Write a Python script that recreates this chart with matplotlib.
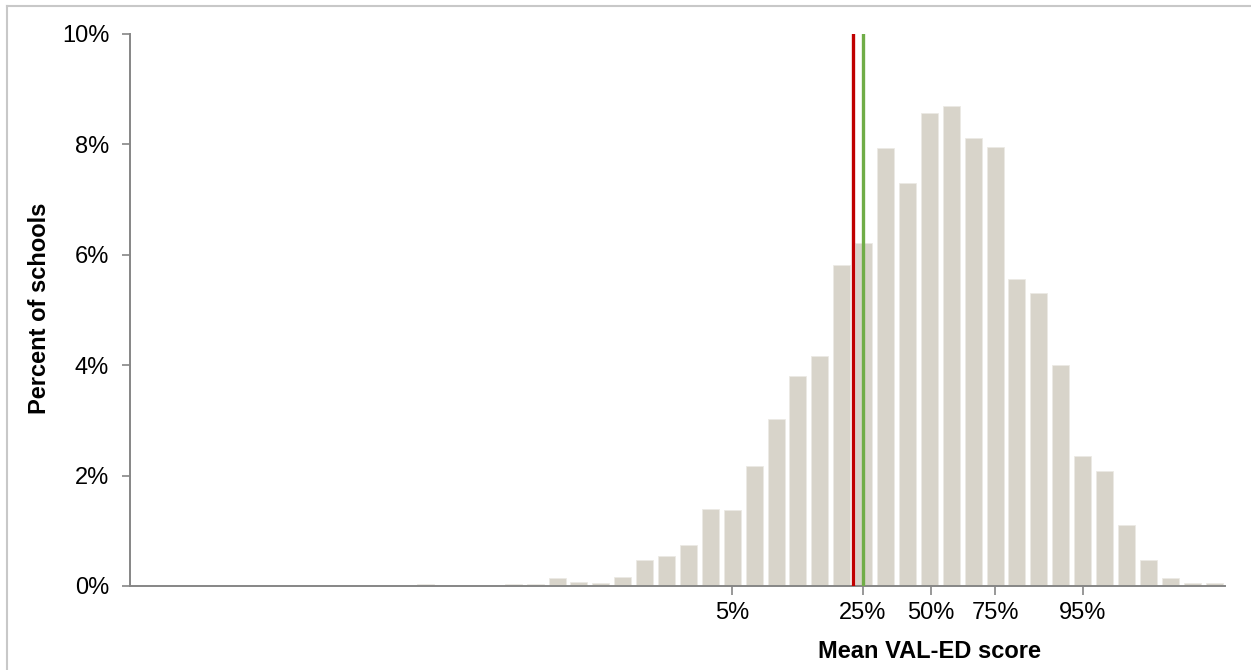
import matplotlib

matplotlib.use("Agg")

import matplotlib.pyplot as plt
from matplotlib.lines import Line2D

# Histogram of mean VAL-ED scores (percent of schools per bin)
bin_index = list(range(50))
percent_schools = [
    0, 0, 0, 0, 0, 0, 0, 0, 0, 0,
    0, 0, 0, 0.03, 0, 0, 0, 0.03, 0.03, 0.15,
    0.08, 0.05, 0.17, 0.48, 0.54, 0.75, 1.40, 1.38, 2.17, 3.03,
    3.80, 4.17, 5.81, 6.21, 7.93, 7.30, 8.57, 8.69, 8.11, 7.95,
    5.57, 5.30, 4.00, 2.36, 2.08, 1.10, 0.47, 0.15, 0.05, 0.05,
]

percentile_positions = [27.0, 32.96, 36.06, 39.0, 43.0]
percentile_labels = ["5%", "25%", "50%", "75%", "95%"]

y_ticks = [0, 2, 4, 6, 8, 10]
y_tick_labels = ["0%", "2%", "4%", "6%", "8%", "10%"]

red_marker = 32.5
green_marker = 32.96

BAR_COLOR = "#D8D4CA"
AXIS_COLOR = "#868686"
FONT_SIZE = 17

plt.rcParams["font.family"] = ["Liberation Sans", "DejaVu Sans"]

fig = plt.figure(figsize=(12.51, 6.70), dpi=100)
ax = fig.add_axes([130 / 1251, 1 - 586 / 670, 1095 / 1251, 552 / 670])

ax.bar(bin_index, percent_schools, width=0.78, color=BAR_COLOR,
       edgecolor="#ECEAE4", linewidth=0.6, zorder=2)

ax.plot([red_marker, red_marker], [0, 10], color="#C00000", linewidth=2.4, zorder=3)
ax.plot([green_marker, green_marker], [0, 10], color="#70AD47", linewidth=2.4, zorder=3)

ax.set_xlim(-0.5, 49.5)
ax.set_ylim(0, 10)

ax.set_yticks(y_ticks)
ax.set_yticklabels(y_tick_labels, fontsize=FONT_SIZE)
ax.set_xticks(percentile_positions)
ax.set_xticklabels(percentile_labels, fontsize=FONT_SIZE)

ax.tick_params(axis="y", length=6, width=1.2, color=AXIS_COLOR, pad=9)
ax.tick_params(axis="x", length=6.5, width=1.2, color=AXIS_COLOR, pad=5)

for side in ("top", "right"):
    ax.spines[side].set_visible(False)
for side in ("left", "bottom"):
    ax.spines[side].set_color(AXIS_COLOR)
    ax.spines[side].set_linewidth(1.4)

fig.text(929 / 1251, 1 - 651 / 670, "Mean VAL-ED score", fontsize=FONT_SIZE,
         fontweight="bold", ha="center", va="center")
fig.text(40 / 1251, 1 - 308 / 670, "Percent of schools", fontsize=FONT_SIZE,
         fontweight="bold", ha="center", va="center", rotation=90)

# light frame on the top and left edges
fig.add_artist(Line2D([7 / 1251, 1], [1 - 5.5 / 670, 1 - 5.5 / 670],
                      transform=fig.transFigure, color="#C8C8C8", linewidth=1.5))
fig.add_artist(Line2D([7 / 1251, 7 / 1251], [0, 1 - 5.5 / 670],
                      transform=fig.transFigure, color="#C8C8C8", linewidth=1.5))

fig.savefig("out.png", dpi=100)
plt.close(fig)
